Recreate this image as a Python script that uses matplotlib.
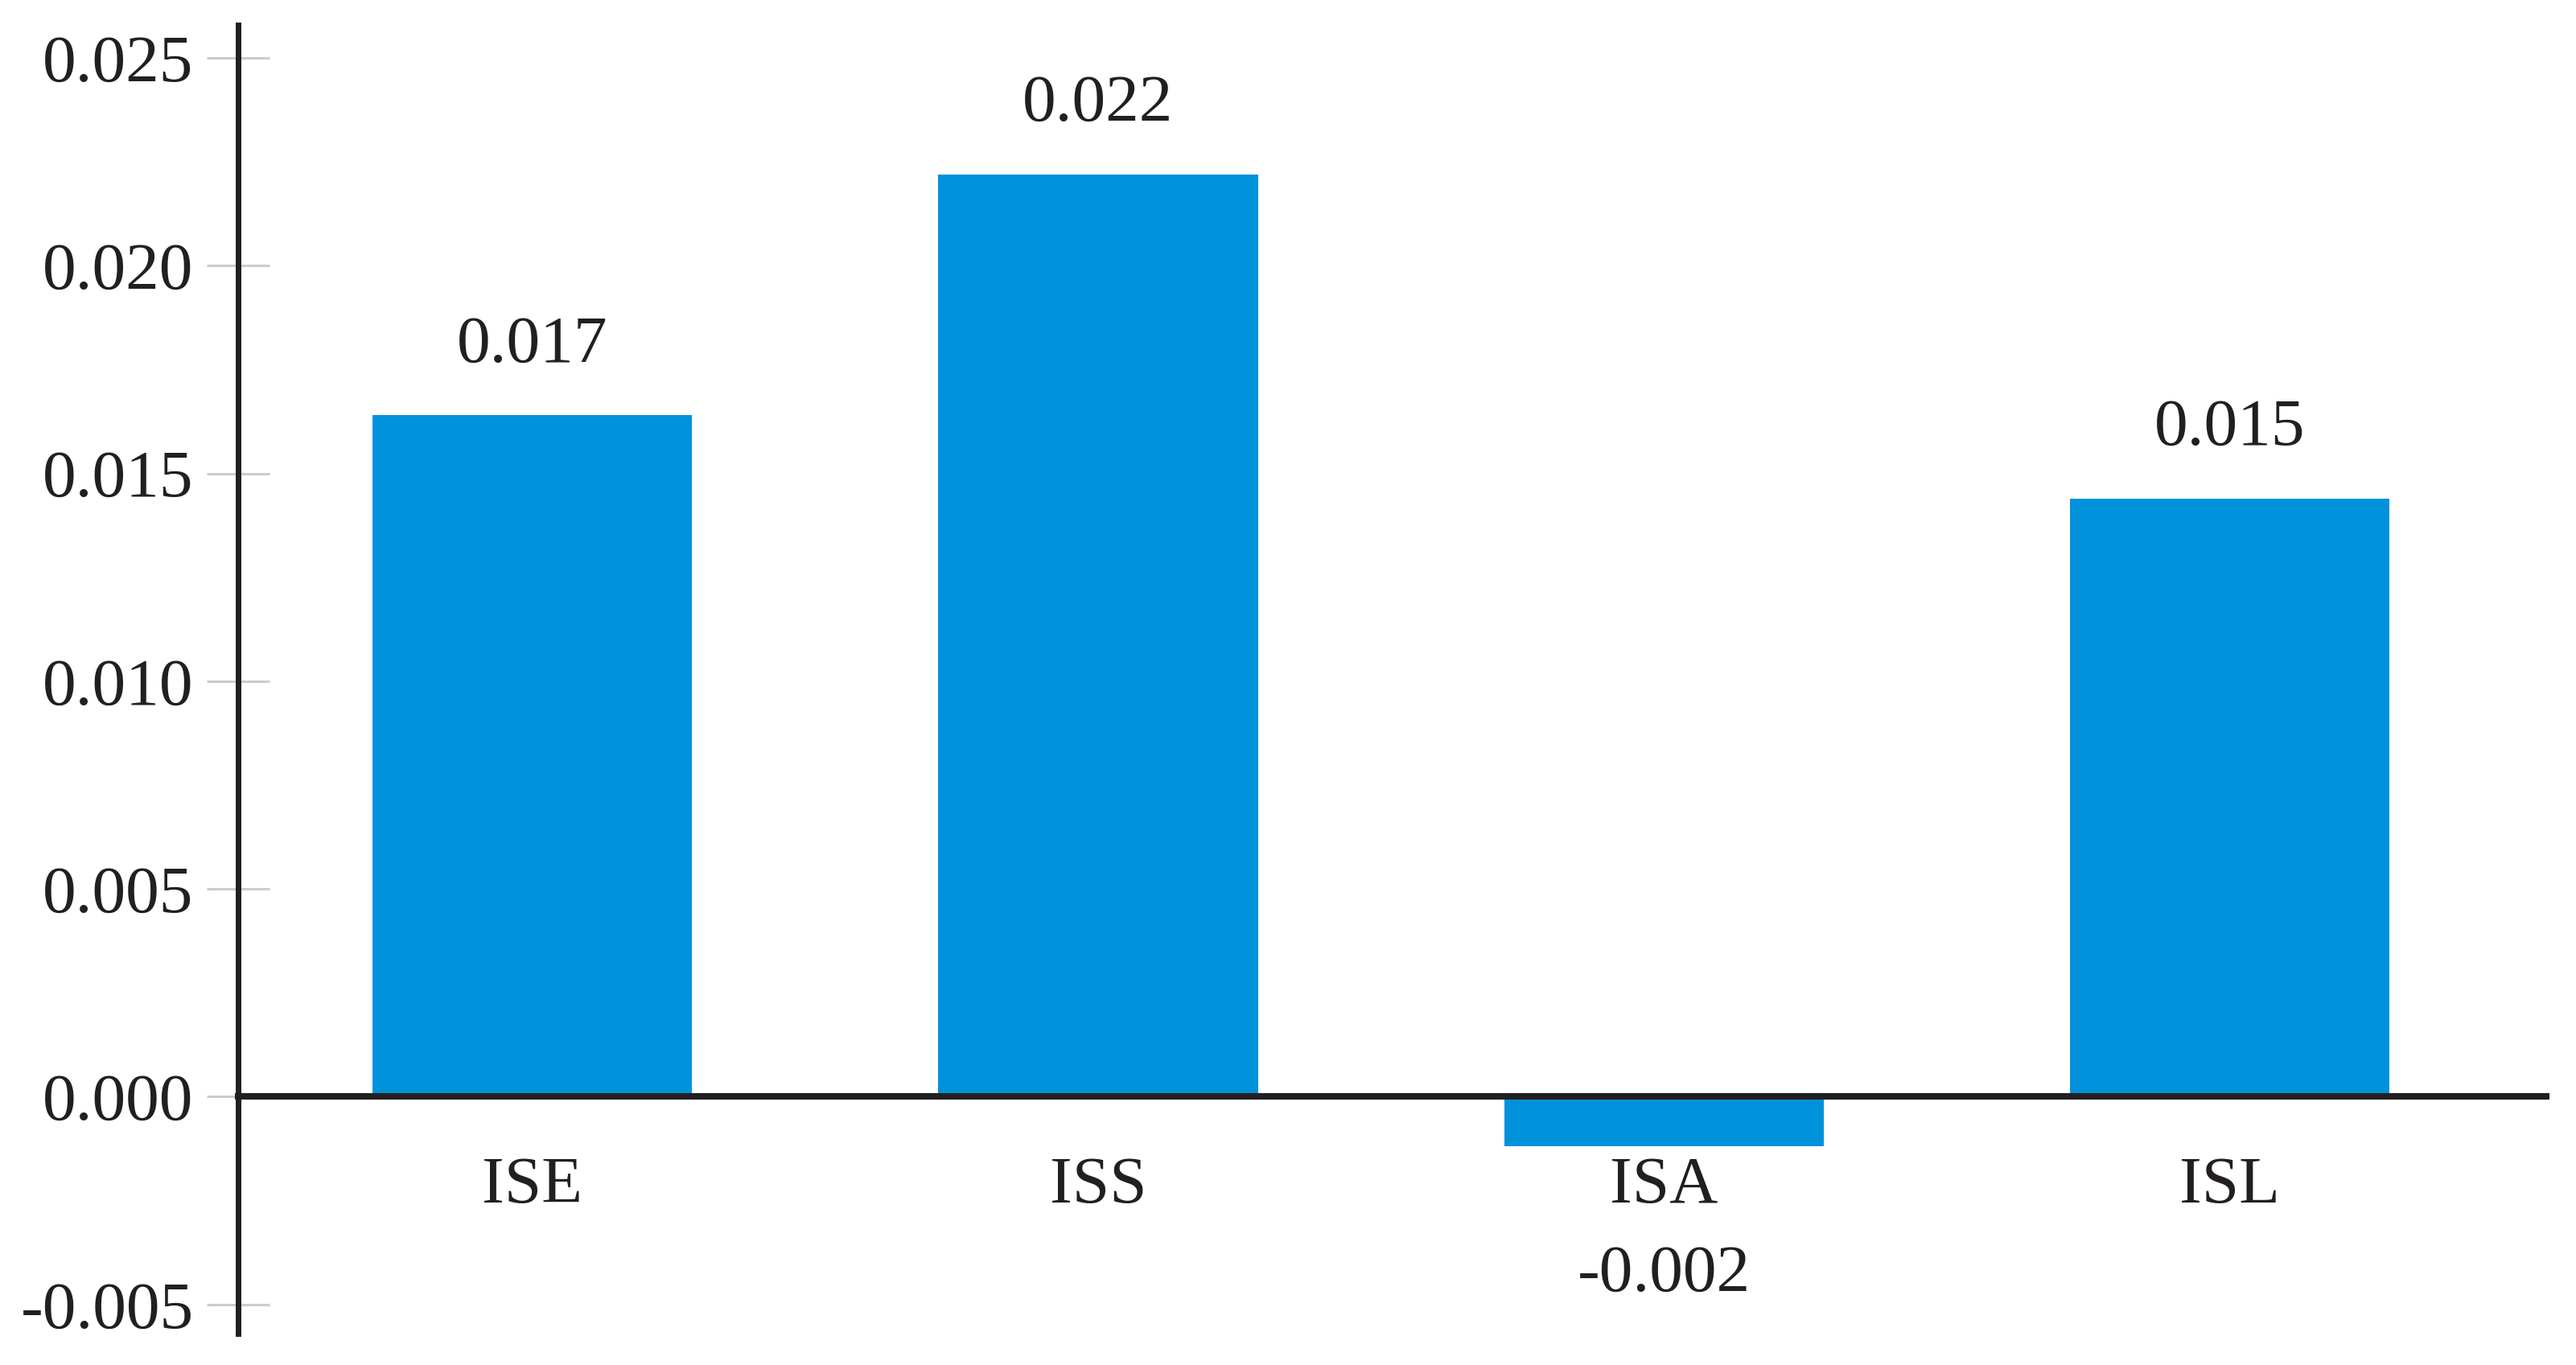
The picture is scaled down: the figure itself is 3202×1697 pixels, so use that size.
import matplotlib.pyplot as plt
from matplotlib.ticker import FuncFormatter

# data
categories = ['ISE', 'ISS', 'ISA', 'ISL']
values = [0.0164, 0.0222, -0.0012, 0.0144]
value_labels = ['0.017', '0.022', '-0.002', '0.015']
yticks = [-0.005, 0.000, 0.005, 0.010, 0.015, 0.020, 0.025]

plt.rcParams['font.family'] = ['Liberation Serif', 'DejaVu Serif']
FS = 60

fig = plt.figure(figsize=(32.02, 16.97), dpi=100)
ax = fig.add_axes([0.0925, 0.023, 0.896, 0.959])

x = range(len(categories))
bars = ax.bar(x, values, width=0.565, color='#0092db', zorder=2)

# value labels above / below bars
for xi, v, lab in zip(x, values, value_labels):
    if v >= 0:
        ax.annotate(lab, (xi, v), xytext=(0, 62), textcoords='offset points',
                    ha='center', va='center', fontsize=FS, color='#231f20')
    else:
        ax.annotate(lab, (xi, v), xytext=(0, -115), textcoords='offset points',
                    ha='center', va='center', fontsize=FS, color='#231f20')

ax.set_xlim(-0.52, 3.56)
ax.set_ylim(-0.0057, 0.0258)

ax.spines['top'].set_visible(False)
ax.spines['right'].set_visible(False)
ax.spines['bottom'].set_position(('data', 0))
ax.spines['bottom'].set_linewidth(5.8)
ax.spines['left'].set_linewidth(5.0)
ax.spines['bottom'].set_color('#231f20')
ax.spines['left'].set_color('#231f20')
ax.spines['bottom'].set_zorder(3)

ax.set_xticks(list(x))
ax.set_xticklabels(categories, fontsize=FS, color='#231f20')
ax.tick_params(axis='x', length=0, pad=53)

ax.set_yticks(yticks)
ax.yaxis.set_major_formatter(FuncFormatter(lambda v, p: f'{v:.3f}'))
ax.tick_params(axis='y', direction='inout', length=56, width=2.2,
               color='#cccccc', labelsize=FS, labelcolor='#231f20', pad=12)

fig.savefig('out.png', dpi=100, facecolor='white')
